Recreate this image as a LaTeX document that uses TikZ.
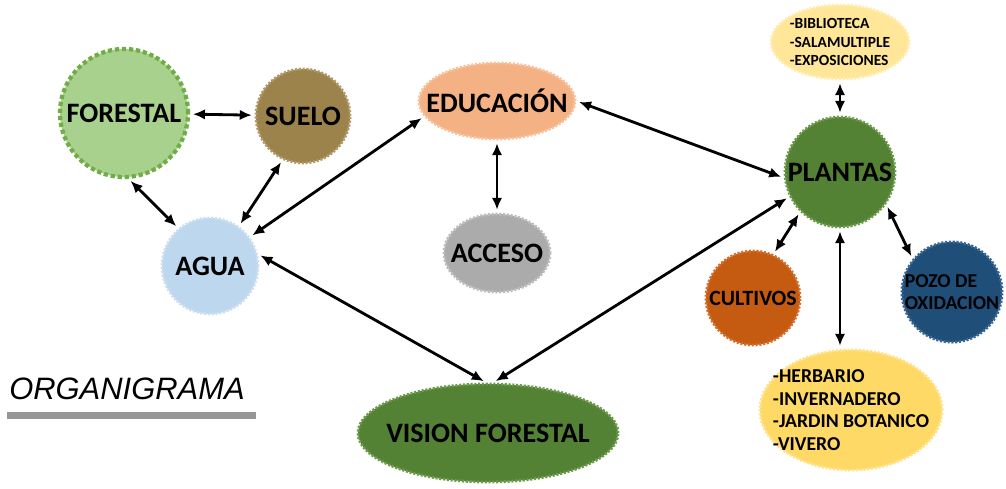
\documentclass[tikz,border=0pt]{standalone}
\usepackage{fontspec}
\setmainfont{Carlito}
\newfontfamily\orgfont{Liberation Sans}
\usepackage{xcolor}
\usetikzlibrary{shapes,arrows,positioning,calc,arrows.meta}

\definecolor{forestfill}{HTML}{A9D18E}
\definecolor{forestline}{HTML}{70AD47}
\definecolor{suelofill}{HTML}{9C824B}
\definecolor{sueloline}{HTML}{B09A6A}
\definecolor{aguafill}{HTML}{BDD7EE}
\definecolor{agualine}{HTML}{CCDFF1}
\definecolor{edufill}{HTML}{F4B183}
\definecolor{eduline}{HTML}{F7C39E}
\definecolor{accfill}{HTML}{ABABAB}
\definecolor{accline}{HTML}{BDBDBD}
\definecolor{plantfill}{HTML}{548235}
\definecolor{plantline}{HTML}{6E9A4E}
\definecolor{biblfill}{HTML}{FFE699}
\definecolor{biblline}{HTML}{FFEDB2}
\definecolor{cultfill}{HTML}{C55A11}
\definecolor{cultline}{HTML}{D2702F}
\definecolor{pozofill}{HTML}{1F4E79}
\definecolor{pozoline}{HTML}{3A6794}
\definecolor{herbfill}{HTML}{FFD966}
\definecolor{herbline}{HTML}{FFE28A}
\definecolor{barcolor}{HTML}{969696}

\begin{document}
\begin{tikzpicture}[
    x=0.025cm,y=-0.025cm,
    bubble/.style={circle,inner sep=0pt,line width=2pt,dash pattern=on 1.5pt off 1.2pt,
      font=\fontsize{20}{24}\selectfont\bfseries,text=black},
    oval/.style={bubble,ellipse,inner xsep=-2cm,inner ysep=-1cm},
    arrow/.style={{Latex[length=3mm,width=2.6mm]}-{Latex[length=3mm,width=2.6mm]},line width=2pt,
      shorten <=2pt,shorten >=2pt}
    ]
    \useasboundingbox (0,0) rectangle (1006,488);

    \node[bubble,fill=forestfill,draw=forestline,line width=3pt,dash pattern=on 3pt off 2pt,
      minimum size=3.2cm] (forestal) at (124,113) {FORESTAL};
    \node[bubble,fill=suelofill,draw=sueloline,minimum size=2.35cm] (suelo) at (303,116) {SUELO};
    \node[bubble,fill=aguafill,draw=agualine,minimum size=2.4cm] (agua) at (210,266) {AGUA};

    \node[oval,fill=edufill,draw=eduline,minimum width=3.9cm,minimum height=1.9cm] (edu) at (497,101) {EDUCACIÓN};
    \node[oval,fill=accfill,draw=accline,minimum width=2.65cm,minimum height=1.95cm] (acceso) at (497,253) {ACCESO};

    \node[bubble,fill=plantfill,draw=plantline,minimum size=2.75cm] (plantas) at (840,172) {PLANTAS};
    \node[oval,fill=biblfill,draw=biblline,minimum width=3.45cm,minimum height=1.85cm,align=left,
      font=\fontsize{11}{13}\selectfont\bfseries] (bibl) at (840,42) {-BIBLIOTECA\\-SALAMULTIPLE\\-EXPOSICIONES};
    \node[bubble,fill=cultfill,draw=cultline,minimum size=2.35cm,
      font=\fontsize{15.5}{18}\selectfont\bfseries] (cultivos) at (753,298) {CULTIVOS};
    \node[bubble,fill=pozofill,draw=pozoline,minimum size=2.5cm,align=left,
      font=\fontsize{14}{15.5}\selectfont\bfseries] (pozo) at (952,292) {POZO DE\\OXIDACION};
    \node[oval,fill=herbfill,draw=herbline,minimum width=4.55cm,minimum height=3cm,align=left,
      font=\fontsize{14}{16}\selectfont\bfseries] (herb) at (851,410) {-HERBARIO\\-INVERNADERO\\-JARDIN BOTANICO\\-VIVERO};

    \node[oval,fill=plantfill,draw=plantline,minimum width=6.5cm,minimum height=2.45cm] (vision) at (488,433) {VISION FORESTAL};

    \node[font=\orgfont\itshape\fontsize{22}{26}\selectfont,inner sep=0pt] (titulo) at (127,389) {ORGANIGRAMA};
    \fill[barcolor] (7,412) rectangle (256,419);

    \draw[arrow] (forestal)--(suelo);
    \draw[arrow] (forestal.-86)--(agua.130);
    \draw[arrow] (suelo.245)--(agua.54);
    \draw[arrow] (agua.36)--(edu.192);
    \draw[arrow] (agua.14)--(vision.92);
    \draw[arrow] (edu)--(acceso);
    \draw[arrow] (edu.east)--(plantas.186);
    \draw[arrow] (plantas.206)--(vision.84);
    \draw[arrow] (bibl)--(plantas);
    \draw[arrow] (plantas.225)--(cultivos.65);
    \draw[arrow] (plantas.-35)--(pozo.140);
    \draw[arrow] (plantas.south)--(plantas.south |- herb.north);

  \end{tikzpicture}
\end{document}
